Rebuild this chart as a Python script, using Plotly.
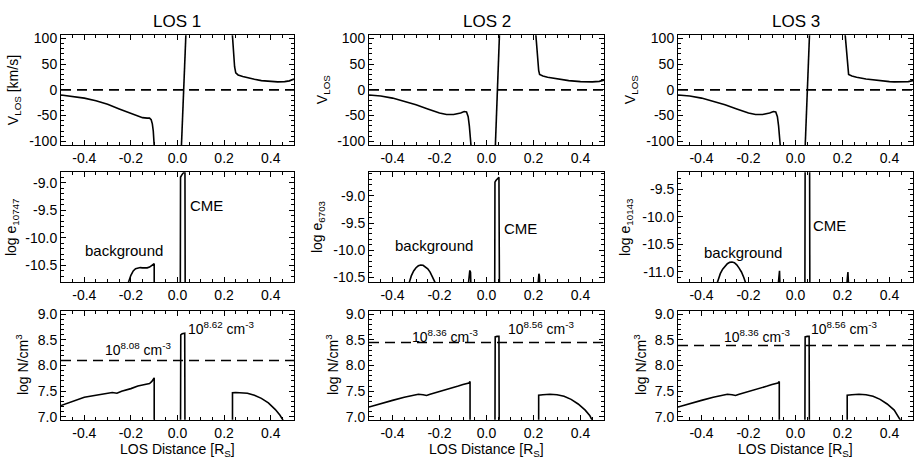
import plotly.graph_objects as go
from plotly.subplots import make_subplots

W, H = 916, 464

# ---------------- data ----------------
los_titles = ["LOS 1", "LOS 2", "LOS 3"]

x_tickvals = [-0.4, -0.2, 0.0, 0.2, 0.4]
x_ticktext = ["-0.4", "-0.2", "0.0", "0.2", "0.4"]

v_tickvals = [-100, -50, 0, 50, 100]
v_ticktext = ["-100", "-50", "0", "50", "100"]
e_tickvals = [[-10.5, -10.0, -9.5, -9.0], [-10.5, -10.0, -9.5, -9.0], [-11.0, -10.5, -10.0, -9.5]]
e_ticktext = [["-10.5", "-10.0", "-9.5", "-9.0"], ["-10.5", "-10.0", "-9.5", "-9.0"], ["-11.0", "-10.5", "-10.0", "-9.5"]]
n_tickvals = [7.0, 7.5, 8.0, 8.5, 9.0]
n_ticktext = ["7.0", "7.5", "8.0", "8.5", "9.0"]

# LOS velocity (km/s)
v1_left_x = [-0.5, -0.45, -0.4, -0.35, -0.3, -0.25, -0.2, -0.17, -0.15, -0.13, -0.12, -0.113, -0.108, -0.104, -0.1, -0.097]
v1_left_y = [-10, -12.5, -16, -21, -28, -37, -46, -51, -54, -55, -55, -58, -66, -80, -100, -130]
v1_mid_x = [0.015, 0.038]
v1_mid_y = [-130, 130]
v1_right_x = [0.232, 0.236, 0.24, 0.245, 0.25, 0.26, 0.28, 0.3, 0.33, 0.36, 0.4, 0.43, 0.46, 0.48, 0.5]
v1_right_y = [130, 105, 75, 45, 33, 29, 26, 23.5, 20.5, 18, 16, 15.5, 16, 17.5, 21]

v2_left_x = [-0.5, -0.45, -0.4, -0.35, -0.3, -0.25, -0.2, -0.17, -0.14, -0.11, -0.095, -0.085, -0.078, -0.073, -0.068, -0.064, -0.06]
v2_left_y = [-10, -12, -16, -22, -29, -37, -45, -48, -48, -45, -42, -43, -52, -70, -95, -115, -140]
v2_mid_x = [0.036, 0.057]
v2_mid_y = [-130, 130]
v2_right_x = [0.206, 0.21, 0.214, 0.218, 0.222, 0.226, 0.24, 0.26, 0.3, 0.35, 0.4, 0.42, 0.45, 0.48, 0.5]
v2_right_y = [130, 105, 80, 55, 38, 30, 27, 24.5, 21, 18, 16, 15.5, 15.5, 16.5, 19]

v3_left_x = [-0.5, -0.45, -0.4, -0.35, -0.3, -0.25, -0.2, -0.17, -0.14, -0.11, -0.094, -0.084, -0.077, -0.072, -0.067, -0.063, -0.059]
v3_left_y = [-10, -12, -16, -22, -29, -37, -45, -48, -48, -45, -42, -43, -52, -70, -95, -115, -140]
v3_mid_x = [0.0395, 0.0615]
v3_mid_y = [-130, 130]
v3_right_x = [0.207, 0.211, 0.215, 0.219, 0.222, 0.226, 0.24, 0.26, 0.3, 0.35, 0.4, 0.42, 0.45, 0.48, 0.5]
v3_right_y = [130, 105, 80, 55, 38, 30, 27, 24.5, 21, 18, 16, 15.5, 15.5, 16, 18]

# log emissivity
e1_bg_x = [-0.215, -0.21, -0.2, -0.19, -0.18, -0.17, -0.16, -0.15, -0.14, -0.13, -0.12, -0.11, -0.102, -0.1, -0.1]
e1_bg_y = [-10.9, -10.8, -10.68, -10.6, -10.56, -10.545, -10.54, -10.545, -10.55, -10.545, -10.53, -10.5, -10.475, -10.47, -11.0]
e1_cme_x = [0.012, 0.013, 0.018, 0.024, 0.029, 0.032, 0.033]
e1_cme_y = [-11.0, -8.9, -8.86, -8.82, -8.8, -8.8, -11.0]

e2_bg_x = [-0.34, -0.33, -0.32, -0.31, -0.3, -0.29, -0.28, -0.27, -0.26, -0.25, -0.24, -0.23, -0.22, -0.21]
e2_bg_y = [-10.75, -10.6, -10.47, -10.38, -10.32, -10.285, -10.27, -10.275, -10.3, -10.34, -10.4, -10.48, -10.58, -10.7]
e2_s1_x = [-0.079, -0.075, -0.071, -0.068, -0.066]
e2_s1_y = [-10.7, -10.45, -10.37, -10.4, -10.7]
e2_cme_x = [0.035, 0.036, 0.04, 0.045, 0.05, 0.053, 0.055]
e2_cme_y = [-10.7, -8.75, -8.72, -8.69, -8.66, -8.66, -10.7]
e2_s2_x = [0.218, 0.221, 0.223, 0.225, 0.227]
e2_s2_y = [-10.7, -10.47, -10.43, -10.47, -10.7]

e3_bg_x = [-0.345, -0.33, -0.32, -0.31, -0.3, -0.29, -0.28, -0.27, -0.26, -0.25, -0.24, -0.23, -0.22, -0.21, -0.2]
e3_bg_y = [-11.35, -11.14, -11.03, -10.95, -10.89, -10.85, -10.825, -10.82, -10.83, -10.87, -10.93, -11.0, -11.1, -11.2, -11.35]
e3_s1_x = [-0.074, -0.071, -0.068, -0.066]
e3_s1_y = [-11.25, -11.02, -10.98, -11.25]
e3_cme_x = [0.040, 0.041, 0.05, 0.06, 0.061]
e3_cme_y = [-11.3, -9.0, -9.0, -9.0, -11.3]
e3_s2_x = [0.218, 0.221, 0.223, 0.226]
e3_s2_y = [-11.25, -11.03, -11.0, -11.25]

# log density
n1_bg_x = [-0.5, -0.45, -0.4, -0.35, -0.3, -0.28, -0.26, -0.24, -0.2, -0.17, -0.14, -0.12, -0.11, -0.103, -0.1, -0.1]
n1_bg_y = [7.22, 7.3, 7.38, 7.42, 7.47, 7.475, 7.46, 7.5, 7.55, 7.6, 7.63, 7.65, 7.69, 7.74, 7.76, 6.8]
n1_cme_x = [0.013, 0.014, 0.02, 0.026, 0.031, 0.032]
n1_cme_y = [6.8, 8.6, 8.62, 8.63, 8.63, 6.8]
n1_right_x = [0.236, 0.236, 0.25, 0.27, 0.3, 0.33, 0.36, 0.39, 0.42, 0.44, 0.455, 0.46]
n1_right_y = [6.8, 7.47, 7.475, 7.47, 7.46, 7.42, 7.36, 7.27, 7.14, 7.03, 6.92, 6.88]

n2_bg_x = [-0.5, -0.45, -0.4, -0.35, -0.3, -0.29, -0.27, -0.255, -0.24, -0.2, -0.15, -0.12, -0.1, -0.085, -0.075, -0.07, -0.07]
n2_bg_y = [7.19, 7.26, 7.32, 7.38, 7.43, 7.44, 7.43, 7.415, 7.44, 7.49, 7.55, 7.6, 7.63, 7.65, 7.66, 7.69, 6.8]
n2_cme_x = [0.036, 0.037, 0.045, 0.053, 0.054]
n2_cme_y = [6.8, 8.56, 8.57, 8.57, 6.8]
n2_right_x = [0.222, 0.222, 0.24, 0.27, 0.3, 0.33, 0.36, 0.39, 0.42, 0.44, 0.45]
n2_right_y = [6.8, 7.42, 7.43, 7.44, 7.43, 7.4, 7.34, 7.25, 7.13, 7.02, 6.93]

n3_bg_x = [-0.5, -0.45, -0.4, -0.35, -0.3, -0.29, -0.27, -0.255, -0.24, -0.2, -0.15, -0.12, -0.1, -0.085, -0.075, -0.069, -0.069]
n3_bg_y = [7.19, 7.26, 7.32, 7.38, 7.43, 7.44, 7.43, 7.415, 7.44, 7.49, 7.55, 7.6, 7.63, 7.65, 7.66, 7.69, 6.8]
n3_cme_x = [0.040, 0.041, 0.05, 0.058, 0.059]
n3_cme_y = [6.8, 8.56, 8.57, 8.57, 6.8]
n3_right_x = [0.22, 0.22, 0.24, 0.27, 0.3, 0.33, 0.36, 0.39, 0.42, 0.44, 0.447]
n3_right_y = [6.8, 7.42, 7.43, 7.44, 7.43, 7.4, 7.34, 7.25, 7.13, 7.0, 6.93]

n_levels = [8.1, 8.45, 8.39]
n_bg_labels = ["10<sup>8.08</sup> cm<sup>-3</sup>", "10<sup>8.36</sup> cm<sup>-3</sup>", "10<sup>8.36</sup> cm<sup>-3</sup>"]
n_cme_labels = ["10<sup>8.62</sup> cm<sup>-3</sup>", "10<sup>8.56</sup> cm<sup>-3</sup>", "10<sup>8.56</sup> cm<sup>-3</sup>"]
e_ytitles = ["log e<sub>10747</sub>", "log e<sub>6703</sub>", "log e<sub>10143</sub>"]
v_ytitles = ["V<sub>LOS</sub> [km/s]", "V<sub>LOS</sub>", "V<sub>LOS</sub>"]

# ---------------- layout geometry (pixels) ----------------
col_px = [(61, 294), (369, 604), (678, 913)]
row_px = [(31, 143), (171, 283), (313, 424)]
v_range = [-107, 106]
e_ranges = [[-10.8, -8.81], [-10.58, -8.57], [-11.18, -9.19]]
n_range = [6.94, 9.06]

FONT = "Liberation Sans, Arial, sans-serif"
LW = 1.6

fig = make_subplots(rows=3, cols=3)

def line(x, y, r, c, dash=None):
    fig.add_trace(go.Scatter(x=x, y=y, mode="lines", showlegend=False, hoverinfo="skip",
                             line=dict(color="black", width=LW, dash=dash)), row=r, col=c)

def hline(yv, r, c):
    line([-0.5, 0.5], [yv, yv], r, c, dash="10px,6px")

vel = [(v1_left_x, v1_left_y, v1_mid_x, v1_mid_y, v1_right_x, v1_right_y),
       (v2_left_x, v2_left_y, v2_mid_x, v2_mid_y, v2_right_x, v2_right_y),
       (v3_left_x, v3_left_y, v3_mid_x, v3_mid_y, v3_right_x, v3_right_y)]
for c, (lx, ly, mx, my, rx, ry) in enumerate(vel, start=1):
    hline(0, 1, c)
    line(lx, ly, 1, c)
    line(mx, my, 1, c)
    line(rx, ry, 1, c)

line(e1_bg_x, e1_bg_y, 2, 1)
line(e1_cme_x, e1_cme_y, 2, 1)
for xs, ys in [(e2_bg_x, e2_bg_y), (e2_s1_x, e2_s1_y), (e2_cme_x, e2_cme_y), (e2_s2_x, e2_s2_y)]:
    line(xs, ys, 2, 2)
for xs, ys in [(e3_bg_x, e3_bg_y), (e3_s1_x, e3_s1_y), (e3_cme_x, e3_cme_y), (e3_s2_x, e3_s2_y)]:
    line(xs, ys, 2, 3)

dens = [(n1_bg_x, n1_bg_y, n1_cme_x, n1_cme_y, n1_right_x, n1_right_y),
        (n2_bg_x, n2_bg_y, n2_cme_x, n2_cme_y, n2_right_x, n2_right_y),
        (n3_bg_x, n3_bg_y, n3_cme_x, n3_cme_y, n3_right_x, n3_right_y)]
for c, (bx, by, cx, cy, rx, ry) in enumerate(dens, start=1):
    hline(n_levels[c - 1], 3, c)
    line(bx, by, 3, c)
    line(cx, cy, 3, c)
    line(rx, ry, 3, c)

axis_common = dict(showline=True, linecolor="black", linewidth=1, mirror="allticks",
                   ticks="inside", ticklen=5, tickwidth=1, tickcolor="black",
                   showgrid=False, zeroline=False,
                   tickfont=dict(family=FONT, size=14, color="black"))

for r in range(1, 4):
    y0, y1 = row_px[r - 1]
    for c in range(1, 4):
        x0, x1 = col_px[c - 1]
        fig.update_xaxes(domain=[x0 / W, x1 / W], range=[-0.5, 0.5],
                         tickvals=x_tickvals, ticktext=x_ticktext,
                         minor=dict(ticks="inside", ticklen=3, dtick=0.05, tickcolor="black"),
                         **axis_common, row=r, col=c)
        if r == 1:
            yr, tv, tt, md = v_range, v_tickvals, v_ticktext, 10
        elif r == 2:
            yr, tv, tt, md = e_ranges[c - 1], e_tickvals[c - 1], e_ticktext[c - 1], 0.1
        else:
            yr, tv, tt, md = n_range, n_tickvals, n_ticktext, 0.1
        fig.update_yaxes(domain=[1 - y1 / H, 1 - y0 / H], range=yr,
                         tickvals=tv, ticktext=tt,
                         minor=dict(ticks="inside", ticklen=3, dtick=md, tickcolor="black"),
                         **axis_common, row=r, col=c)

annotations = []

def ann(text, px, py, size=14, angle=0):
    annotations.append(dict(text=text, x=px / W, y=1 - py / H, xref="paper", yref="paper",
                            xanchor="center", yanchor="middle", showarrow=False, textangle=angle,
                            font=dict(family=FONT, size=size, color="black")))

title_x = [177, 487, 796]
for c in range(3):
    ann(los_titles[c], title_x[c], 17, size=17)

ytitle_v_x = [14, 323, 631]
ytitle_e_x = [12, 318, 626]
ytitle_n_x = [22, 332, 640]
for c in range(3):
    ann(v_ytitles[c], ytitle_v_x[c], 87, size=14, angle=-90)
    ann(e_ytitles[c], ytitle_e_x[c], 227, size=14, angle=-90)
    ann("log N/cm<sup>3</sup>", ytitle_n_x[c], 368, size=14, angle=-90)
    ann("LOS Distance [R<sub>S</sub>]", (col_px[c][0] + col_px[c][1]) / 2, 455, size=14)

cme_pos = [(206, 205), (520, 228), (829, 225)]
bg_pos = [(124, 251), (434, 246), (743, 253)]
for c in range(3):
    ann("CME", *cme_pos[c], size=15)
    ann("background", *bg_pos[c], size=15)

nbg_pos = [(138, 352), (445, 338), (757, 338)]
ncme_pos = [(221, 330), (541, 330), (844, 330)]
for c in range(3):
    ann(n_bg_labels[c], *nbg_pos[c], size=14)
    ann(n_cme_labels[c], *ncme_pos[c], size=14)

fig.update_layout(width=W, height=H, margin=dict(l=0, r=0, t=0, b=0),
                  paper_bgcolor="white", plot_bgcolor="white",
                  annotations=annotations, showlegend=False)

fig.write_html("out.html")
